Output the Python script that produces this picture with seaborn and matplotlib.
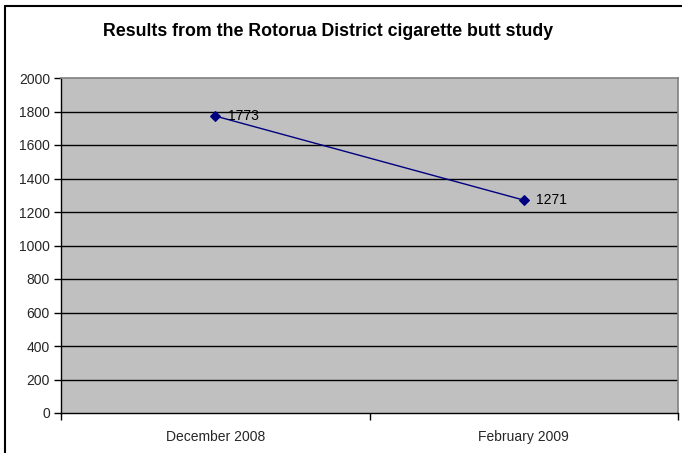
import matplotlib
matplotlib.use("Agg")
import matplotlib.pyplot as plt
import seaborn as sns
import pandas as pd
from matplotlib.lines import Line2D

# Survey results
periods = ["December 2008", "February 2009"]
butt_counts = [1773, 1271]
y_ticks = [0, 200, 400, 600, 800, 1000, 1200, 1400, 1600, 1800, 2000]

sns.set_theme(style="white")
plt.rcParams["font.family"] = ["Liberation Sans", "DejaVu Sans"]

df = pd.DataFrame({"period": periods, "count": butt_counts})

W, H = 682, 453
fig = plt.figure(figsize=(W / 100, H / 100), dpi=100)
fig.patch.set_facecolor("white")

left, right, top, bottom = 61, 678, 78, 413
ax = fig.add_axes([left / W, (H - bottom) / H, (right - left) / W, (bottom - top) / H])
ax.set_facecolor("#C0C0C0")

x_pos = [0.5, 1.5]
df["x"] = x_pos
sns.lineplot(data=df, x="x", y="count", ax=ax, color="#000080", linewidth=1.0,
             marker="D", markersize=5, markeredgecolor="#000080",
             markerfacecolor="#000080")

for xv, yv in zip(x_pos, butt_counts):
    ax.annotate(str(yv), (xv, yv), xytext=(9, 0), textcoords="offset points",
                ha="left", va="center", fontsize=10, color="black")

ax.set_xlim(0, 2)
ax.set_ylim(0, 2000)
ax.set_yticks(y_ticks)
ax.set_yticklabels([str(v) for v in y_ticks], fontsize=10)
ax.set_xticks([0, 1, 2])
ax.set_xticklabels([])
ax.set_xticks(x_pos, minor=True)
ax.set_xticklabels(periods, minor=True, fontsize=10)
ax.tick_params(axis="x", which="minor", length=0, pad=12)
ax.tick_params(axis="x", which="major", length=5, width=1, color="black", direction="out", bottom=True)
ax.tick_params(axis="y", length=5, width=1, color="black", direction="out", left=True, pad=3)

for v in y_ticks[1:-1]:
    ax.axhline(v, color="black", linewidth=1.0, zorder=1)

ax.set_xlabel("")
ax.set_ylabel("")
for side in ["top", "right"]:
    ax.spines[side].set_color("#808080")
    ax.spines[side].set_linewidth(1.2)
for side in ["left", "bottom"]:
    ax.spines[side].set_color("black")
    ax.spines[side].set_linewidth(1.0)

fig.text(328 / W, 1 - 32 / H, "Results from the Rotorua District cigarette butt study",
         ha="center", va="center", fontsize=12.8, fontweight="bold", color="black")

# Outer chart frame (left and top edges)
fig.add_artist(Line2D([5 / W, 5 / W], [0, 1 - 6 / H], transform=fig.transFigure,
                      color="black", linewidth=1.5))
fig.add_artist(Line2D([5 / W, 1], [1 - 6 / H, 1 - 6 / H], transform=fig.transFigure,
                      color="black", linewidth=1.5))

fig.savefig("out.png", dpi=100)
